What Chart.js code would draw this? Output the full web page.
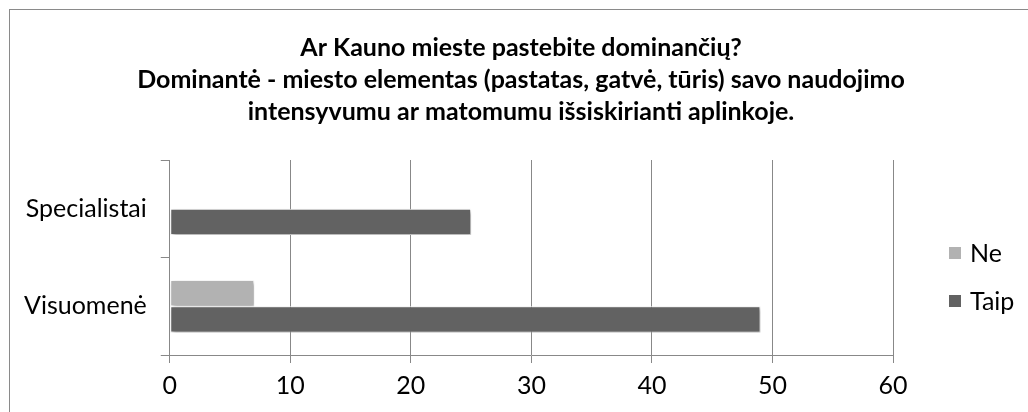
<!DOCTYPE html>
<html>
<head>
<meta charset="utf-8">
<script src="https://cdn.jsdelivr.net/npm/chart.js@4"></script>
<style>
  html, body { margin: 0; padding: 0; background: #fff; }
  .wrap { position: relative; width: 1028px; height: 412px; overflow: hidden; }
  .frame { position: absolute; left: 9px; top: 9px; width: 1040px; height: 420px; border: 1px solid #8a8a8a; }
  canvas { position: absolute; left: 0; top: 0; }
</style>
</head>
<body>
<div class="wrap">
  <div class="frame"></div>
  <canvas id="bar-chart" width="1028" height="412"></canvas>
</div>
<script>
// Chart data
const categories = ['Specialistai', 'Visuomenė'];
const seriesNames = ['Ne', 'Taip'];
const neValues = [0, 7];
const taipValues = [25, 49];
const xTicks = [0, 10, 20, 30, 40, 50, 60];
const titleLines = [
    'Ar Kauno mieste pastebite dominančių?',
    'Dominantė - miesto elementas (pastatas, gatvė, tūris) savo naudojimo',
    'intensyvumu ar matomumu išsiskirianti aplinkoje.'
];

const gridColor = '#888888';
const fontFamily = 'Lato';

// soft drop shadow like the office bars
const barShadow = {
    id: 'barShadow',
    beforeDatasetsDraw(chart) {
        const ctx = chart.ctx;
        ctx.save();
        ctx.shadowColor = 'rgba(0,0,0,0.35)';
        ctx.shadowBlur = 4;
        ctx.shadowOffsetX = 2;
        ctx.shadowOffsetY = 2;
    },
    afterDatasetsDraw(chart) {
        chart.ctx.restore();
    }
};

// legend on the right, next to the plot
const sideLegend = {
    id: 'sideLegend',
    afterDraw(chart) {
        const ctx = chart.ctx;
        const area = chart.chartArea;
        const x = area.right + 56;
        const firstY = 253;
        const step = 48;
        ctx.save();
        ctx.font = '25px ' + fontFamily;
        ctx.textBaseline = 'middle';
        chart.data.datasets.forEach((ds, i) => {
            const y = firstY + i * step;
            ctx.fillStyle = ds.backgroundColor;
            ctx.fillRect(x, y - 6, 12, 12);
            ctx.fillStyle = '#000';
            ctx.fillText(ds.label, x + 21, y + 1);
        });
        ctx.restore();
    }
};

const chartdata = {
    labels: categories,
    datasets: [
        {
            label: seriesNames[0],
            data: neValues,
            backgroundColor: '#b2b2b2',
            borderColor: '#ffffff',
            borderWidth: 1,
            borderSkipped: false
        },
        {
            label: seriesNames[1],
            data: taipValues,
            backgroundColor: '#626262',
            borderColor: '#ffffff',
            borderWidth: 1,
            borderSkipped: false
        }
    ]
};

const chartoptions = {
    indexAxis: 'y',
    responsive: false,
    animation: false,
    layout: { padding: { left: 10, right: -4, top: 10, bottom: 3 } },
    datasets: {
        bar: { barPercentage: 1.0, categoryPercentage: 0.54 }
    },
    scales: {
        x: {
            min: 0,
            max: 60,
            afterBuildTicks: (axis) => { axis.ticks = xTicks.map(v => ({ value: v })); },
            grid: { color: gridColor, lineWidth: 1, drawTicks: true, tickLength: 8, tickColor: gridColor },
            border: { color: gridColor },
            ticks: { color: '#000', font: { family: fontFamily, size: 25 }, padding: 8, maxRotation: 0 }
        },
        y: {
            grid: { offset: true, drawOnChartArea: false, drawTicks: true, tickLength: 9, color: gridColor },
            border: { color: gridColor },
            ticks: { color: '#000', font: { family: fontFamily, size: 25 }, padding: 14 }
        },
        // empty room on the right for the legend
        yRight: {
            type: 'category',
            position: 'right',
            grid: { display: false },
            border: { display: false },
            ticks: { display: false },
            afterFit: (axis) => { axis.width = 139; }
        }
    },
    plugins: {
        title: {
            display: true,
            text: titleLines,
            color: '#000',
            font: { family: fontFamily, size: 25, weight: 'bold', lineHeight: 1.28 },
            padding: { top: 22, bottom: 32 }
        },
        legend: { display: false },
        tooltip: { enabled: false }
    }
};

const ctx = document.getElementById('bar-chart').getContext('2d');
new Chart(ctx, {
    type: 'bar',
    data: chartdata,
    options: chartoptions,
    plugins: [barShadow, sideLegend]
});
</script>
</body>
</html>
